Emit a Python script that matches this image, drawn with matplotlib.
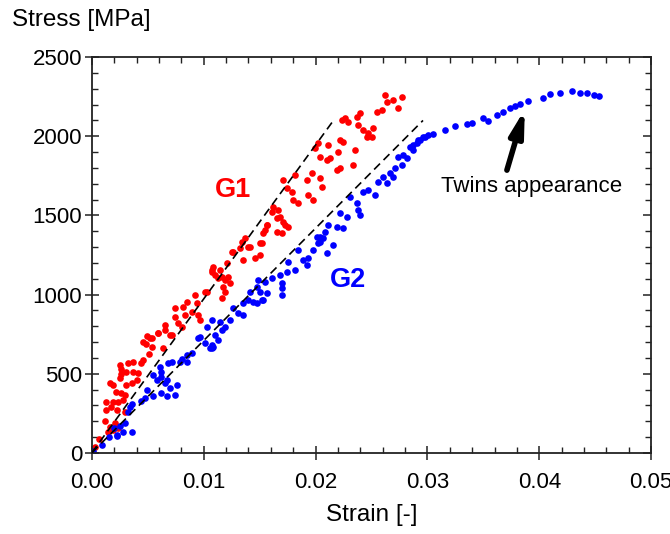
import matplotlib.pyplot as plt
import numpy as np

plt.rcParams["font.family"] = ["Liberation Sans", "DejaVu Sans"]

# G1 (red) points: strain [-], stress [MPa]
g1_strain = [
    0.0003, 0.0006, 0.00116, 0.00161, 0.00206, 0.00191, 0.00146, 0.00235,
    0.00131, 0.00176, 0.00221, 0.00295, 0.00131, 0.00191, 0.00235, 0.00280,
    0.00215, 0.00265, 0.00295, 0.00161, 0.00191, 0.00310, 0.00355, 0.00400,
    0.00414, 0.00370, 0.00310, 0.00250, 0.00257, 0.00265, 0.00250, 0.00325,
    0.00370, 0.00444, 0.00459, 0.00513, 0.00534, 0.00483, 0.00459, 0.00489,
    0.00519, 0.00593, 0.00698, 0.00534, 0.00593, 0.00653, 0.00653, 0.00638,
    0.00713, 0.00742, 0.00742, 0.00772, 0.00802, 0.00817, 0.00832, 0.00847,
    0.00892, 0.00936, 0.00921, 0.00966, 0.00951, 0.01026, 0.01011, 0.01071,
    0.01085, 0.01145, 0.01160, 0.01190, 0.01220, 0.01234, 0.01175, 0.01190,
    0.01205, 0.01071, 0.01100, 0.01130, 0.01160, 0.01250, 0.01264, 0.01339,
    0.01324, 0.01369, 0.01398, 0.01353, 0.01413, 0.01503, 0.01503, 0.01458,
    0.01518, 0.01547, 0.01562, 0.01652, 0.01532, 0.01562, 0.01607, 0.01622,
    0.01667, 0.01682, 0.01652, 0.01711, 0.01756, 0.01697, 0.01726, 0.01711,
    0.01741, 0.01786, 0.01801, 0.01845, 0.01816, 0.01920, 0.01935, 0.01980,
    0.01965, 0.02039, 0.02054, 0.01995, 0.02024, 0.02039, 0.02114, 0.02129,
    0.02099, 0.02203, 0.02218, 0.02248, 0.02189, 0.02218, 0.02352, 0.02337,
    0.02233, 0.02263, 0.02293, 0.02367, 0.02397, 0.02382, 0.02427, 0.02472,
    0.02457, 0.02502, 0.02516, 0.02547, 0.02591, 0.02621, 0.02636, 0.02696,
    0.02740, 0.02770,
]
g1_stress = [
    40, 90, 198, 166, 187, 145, 134, 156,
    271, 292, 271, 261, 324, 324, 324, 335,
    387, 377, 366, 440, 429, 429, 440, 461,
    503, 513, 513, 471, 499, 528, 556, 566,
    577, 566, 587, 625, 671, 688, 703, 739,
    724, 756, 745, 724, 756, 776, 808, 661,
    745, 861, 913, 819, 797, 924, 871, 955,
    892, 945, 997, 840, 871, 1018, 1018, 1145,
    1176, 1155, 1113, 1092, 1113, 1071, 1050, 1018,
    1197, 1155, 1124, 1103, 977, 1271, 1271, 1334,
    1292, 1355, 1302, 1218, 1302, 1250, 1324, 1229,
    1324, 1408, 1439, 1397, 1387, 1439, 1523, 1555,
    1534, 1492, 1482, 1460, 1429, 1387, 1439, 1723,
    1671, 1650, 1597, 1576, 1755, 1723, 1629, 1597,
    1766, 1734, 1681, 1924, 1955, 1871, 1944, 1860,
    1850, 1902, 1976, 1965, 1787, 1797, 1913, 1818,
    2102, 2113, 2092, 2123, 2144, 2071, 2039, 2018,
    1997, 1997, 2050, 2155, 2165, 2260, 2218, 2229,
    2176, 2250,
]

# G2 (blue) points: strain [-], stress [MPa]
g2_strain = [
    0.00012, 0.00087, 0.00150, 0.00221, 0.00224, 0.00280, 0.00355, 0.00295,
    0.00250, 0.00200, 0.00325, 0.00340, 0.00355, 0.00444, 0.00474, 0.00489,
    0.00548, 0.00623, 0.00668, 0.00742, 0.00698, 0.00653, 0.00579, 0.00623,
    0.00668, 0.00758, 0.00683, 0.00713, 0.00787, 0.00802, 0.00847, 0.00847,
    0.00608, 0.00623, 0.00548, 0.00892, 0.00951, 0.00966, 0.01011, 0.01055,
    0.01085, 0.01026, 0.01071, 0.01145, 0.01160, 0.01190, 0.01100, 0.01071,
    0.01071, 0.01130, 0.01234, 0.01264, 0.01309, 0.01353, 0.01353, 0.01413,
    0.01398, 0.01443, 0.01488, 0.01503, 0.01518, 0.01473, 0.01547, 0.01562,
    0.01607, 0.01473, 0.01532, 0.01697, 0.01697, 0.01697, 0.01682, 0.01756,
    0.01741, 0.01816, 0.01845, 0.01890, 0.01920, 0.01935, 0.01980, 0.02024,
    0.02039, 0.02084, 0.02099, 0.02159, 0.02189, 0.02010, 0.02069, 0.02040,
    0.02114, 0.02218, 0.02278, 0.02248, 0.02308, 0.02367, 0.02382, 0.02397,
    0.02427, 0.02472, 0.02531, 0.02561, 0.02606, 0.02636, 0.02665, 0.02696,
    0.02710, 0.02740, 0.02785, 0.02770, 0.02815, 0.02844, 0.02874, 0.02904,
    0.02934, 0.02979, 0.03008, 0.02874, 0.02919, 0.02964, 0.03053, 0.03157,
    0.03247, 0.03351, 0.03396, 0.03500, 0.03545, 0.03620, 0.03679, 0.03739,
    0.03784, 0.03828, 0.03903, 0.04031, 0.04097, 0.04186, 0.04291, 0.04365,
    0.04425, 0.04484, 0.04529,
]
g2_stress = [
    10, 50, 100, 114, 107, 134, 134, 187,
    170, 160, 261, 288, 309, 330, 345, 398,
    356, 377, 356, 366, 408, 440, 461, 482,
    461, 429, 566, 577, 577, 592, 577, 619,
    545, 513, 492, 629, 724, 734, 692, 661,
    671, 797, 840, 829, 776, 797, 745, 682,
    661, 713, 840, 913, 882, 871, 945, 1018,
    966, 955, 1092, 1018, 966, 945, 1082, 1008,
    1103, 1050, 966, 1071, 1040, 997, 1124, 1208,
    1145, 1155, 1282, 1218, 1187, 1229, 1282, 1324,
    1366, 1397, 1261, 1313, 1429, 1366, 1355, 1334,
    1439, 1513, 1492, 1419, 1618, 1576, 1534, 1503,
    1650, 1660, 1629, 1713, 1744, 1702, 1766, 1744,
    1797, 1871, 1881, 1818, 1860, 1934, 1913, 1955,
    1976, 1997, 2008, 1944, 1976, 1997, 2014, 2039,
    2064, 2077, 2085, 2113, 2098, 2134, 2155, 2176,
    2191, 2203, 2222, 2243, 2266, 2275, 2287, 2275,
    2271, 2260, 2256,
]

# dashed elastic lines (start, end)
g1_line_x = [0.0, 0.0217]
g1_line_y = [0, 2110]
g2_line_x = [0.0, 0.0296]
g2_line_y = [0, 2100]

fig = plt.figure(figsize=(6.7, 5.34), dpi=100)
ax = fig.add_axes([0.137, 0.152, 0.835, 0.741])

ax.plot(g1_line_x, g1_line_y, color="black", lw=1.2, ls=(0, (5, 3)), zorder=3)
ax.plot(g2_line_x, g2_line_y, color="black", lw=1.2, ls=(0, (5, 3)), zorder=3)
ax.scatter(g1_strain, g1_stress, s=23, color="#ff0000", linewidths=0, zorder=2)
ax.scatter(g2_strain, g2_stress, s=23, color="#0000ff", linewidths=0, zorder=2)

ax.text(0.0126, 1660, "G1", color="#ff0000", fontsize=19.5, fontweight="bold",
        ha="center", va="center")
ax.text(0.0229, 1092, "G2", color="#0000ff", fontsize=19.5, fontweight="bold",
        ha="center", va="center")

ax.annotate("", xy=(0.0387, 2170), xytext=(0.0371, 1786),
            arrowprops=dict(arrowstyle="-|>,head_width=0.4,head_length=1.5",
                            color="black", lw=4, shrinkA=0, shrinkB=0))
ax.text(0.0393, 1685, "Twins appearance", fontsize=16, ha="center", va="center")

ax.set_xlim(0, 0.05)
ax.set_ylim(0, 2500)
ax.set_xticks(np.arange(0, 0.0501, 0.01))
ax.set_yticks(np.arange(0, 2501, 500))
ax.set_xticks(np.arange(0, 0.0501, 0.002), minor=True)
ax.set_yticks(np.arange(0, 2501, 100), minor=True)
ax.xaxis.set_major_formatter(plt.FuncFormatter(lambda v, p: f"{v:.2f}"))

ax.tick_params(which="major", direction="inout", length=10, width=1.1,
               labelsize=16, color="#222222")
ax.tick_params(which="minor", direction="in", length=4, width=1.0, color="#222222")
ax.tick_params(axis="x", pad=9)
ax.tick_params(axis="y", pad=2)

# ticks on top and right, inward only
for side in ["top", "right"]:
    sec = ax.secondary_xaxis("top") if side == "top" else ax.secondary_yaxis("right")
    if side == "top":
        sec.set_xticks(np.arange(0, 0.0501, 0.01))
        sec.set_xticks(np.arange(0, 0.0501, 0.002), minor=True)
    else:
        sec.set_yticks(np.arange(0, 2501, 500))
        sec.set_yticks(np.arange(0, 2501, 100), minor=True)
    sec.tick_params(which="major", direction="in", length=6, width=1.1,
                    labelleft=False, labelright=False, labeltop=False,
                    labelbottom=False, color="#222222")
    sec.tick_params(which="minor", direction="in", length=4, width=1.0,
                    color="#222222")
    for sp in sec.spines.values():
        sp.set_visible(False)

for sp in ax.spines.values():
    sp.set_linewidth(1.3)
    sp.set_color("#222222")

ax.set_xlabel("Strain [-]", fontsize=17.5, labelpad=8)
fig.text(0.018, 0.963, "Stress [MPa]", fontsize=17.5, ha="left", va="center")

fig.savefig("out.png", dpi=100)
